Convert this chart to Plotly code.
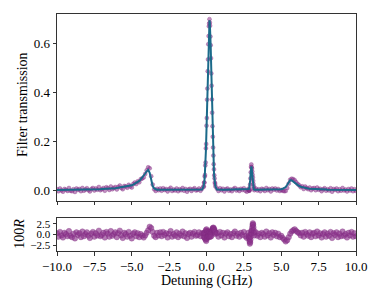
import plotly.graph_objects as go

# ---- sample positions (GHz) ----
x_seg1 = [-10.0, -9.9, -9.8, -9.7, -9.6, -9.5, -9.4, -9.3, -9.2, -9.1,
          -9.0, -8.9, -8.8, -8.7, -8.6, -8.5, -8.4, -8.3, -8.2, -8.1,
          -8.0, -7.9, -7.8, -7.7, -7.6, -7.5, -7.4, -7.3, -7.2, -7.1,
          -7.0, -6.9, -6.8, -6.7, -6.6, -6.5, -6.4, -6.3, -6.2, -6.1,
          -6.0, -5.9, -5.8, -5.7, -5.6, -5.5, -5.4, -5.3, -5.2, -5.1,
          -5.0, -4.9, -4.8, -4.7, -4.6, -4.5, -4.4, -4.3, -4.2, -4.1,
          -4.0, -3.9, -3.8, -3.7, -3.6, -3.5, -3.4, -3.3, -3.2, -3.1,
          -3.0, -2.9, -2.8, -2.7, -2.6, -2.5, -2.4, -2.3, -2.2, -2.1,
          -2.0, -1.9, -1.8, -1.7, -1.6, -1.5, -1.4, -1.3, -1.2, -1.1,
          -1.0, -0.9, -0.8, -0.7, -0.6, -0.5, -0.4, -0.3]
x_seg2 = [-0.20, -0.18, -0.16, -0.14, -0.12, -0.10, -0.08, -0.06, -0.04, -0.02,
          0.00, 0.02, 0.04, 0.06, 0.08, 0.10, 0.12, 0.14, 0.16, 0.18,
          0.20, 0.22, 0.24, 0.26, 0.28, 0.30, 0.32, 0.34, 0.36, 0.38,
          0.40, 0.42, 0.44, 0.46, 0.48, 0.50, 0.52, 0.54, 0.56, 0.58, 0.60]
x_seg3 = [0.7, 0.8, 0.9, 1.0, 1.1, 1.2, 1.3, 1.4, 1.5, 1.6,
          1.7, 1.8, 1.9, 2.0, 2.1, 2.2, 2.3, 2.4, 2.5, 2.6, 2.7]
x_seg4 = [2.80, 2.82, 2.84, 2.86, 2.88, 2.90, 2.92, 2.94, 2.96, 2.98,
          3.00, 3.02, 3.04, 3.06, 3.08, 3.10, 3.12, 3.14, 3.16, 3.18, 3.20]
x_seg5 = [3.3, 3.4, 3.5, 3.6, 3.7, 3.8, 3.9, 4.0, 4.1, 4.2,
          4.3, 4.4, 4.5, 4.6, 4.7, 4.8, 4.9, 5.0, 5.1, 5.2,
          5.3, 5.4, 5.5, 5.6, 5.7, 5.8, 5.9, 6.0, 6.1, 6.2,
          6.3, 6.4, 6.5, 6.6, 6.7, 6.8, 6.9, 7.0, 7.1, 7.2,
          7.3, 7.4, 7.5, 7.6, 7.7, 7.8, 7.9, 8.0, 8.1, 8.2,
          8.3, 8.4, 8.5, 8.6, 8.7, 8.8, 8.9, 9.0, 9.1, 9.2,
          9.3, 9.4, 9.5, 9.6, 9.7, 9.8, 9.9, 10.0]

# ---- fitted filter transmission ----
fit_seg1 = [0.003, 0.003, 0.003, 0.003, 0.003, 0.003, 0.003, 0.003, 0.003, 0.003,
            0.004, 0.004, 0.004, 0.004, 0.004, 0.004, 0.004, 0.004, 0.004, 0.004,
            0.005, 0.005, 0.005, 0.005, 0.005, 0.006, 0.006, 0.006, 0.006, 0.006,
            0.007, 0.007, 0.007, 0.008, 0.008, 0.008, 0.009, 0.009, 0.010, 0.010,
            0.011, 0.012, 0.012, 0.013, 0.014, 0.015, 0.016, 0.017, 0.018, 0.020,
            0.022, 0.025, 0.028, 0.031, 0.035, 0.040, 0.046, 0.053, 0.061, 0.070,
            0.079, 0.085, 0.073, 0.044, 0.019, 0.009, 0.005, 0.004, 0.004, 0.004,
            0.004, 0.004, 0.004, 0.004, 0.004, 0.004, 0.004, 0.004, 0.004, 0.004,
            0.004, 0.004, 0.004, 0.004, 0.004, 0.004, 0.004, 0.004, 0.004, 0.004,
            0.004, 0.004, 0.004, 0.004, 0.004, 0.004, 0.004, 0.005]
fit_seg2 = [0.016, 0.021, 0.029, 0.040, 0.055, 0.073, 0.097, 0.127, 0.163, 0.205,
            0.253, 0.306, 0.363, 0.422, 0.482, 0.539, 0.590, 0.633, 0.666, 0.687,
            0.694,
            0.687, 0.666, 0.633, 0.590, 0.539, 0.482, 0.422, 0.363, 0.306, 0.253,
            0.205, 0.163, 0.127, 0.097, 0.073, 0.055, 0.040, 0.029, 0.021, 0.016]
fit_seg3 = [0.005, 0.004, 0.004, 0.004, 0.004, 0.004, 0.004, 0.004, 0.004, 0.004,
            0.004, 0.004, 0.004, 0.004, 0.004, 0.004, 0.004, 0.004, 0.004, 0.004, 0.004]
fit_seg4 = [0.004, 0.005, 0.007, 0.010, 0.017, 0.028, 0.043, 0.062, 0.080, 0.094,
            0.099, 0.094, 0.080, 0.062, 0.043, 0.028, 0.017, 0.010, 0.007, 0.005, 0.004]
fit_seg5 = [0.004, 0.004, 0.004, 0.004, 0.004, 0.004, 0.004, 0.004, 0.004, 0.004,
            0.004, 0.004, 0.005, 0.005, 0.005, 0.005, 0.005, 0.006, 0.008, 0.010,
            0.015, 0.024, 0.035, 0.043, 0.042, 0.037, 0.031, 0.026, 0.022, 0.019,
            0.016, 0.014, 0.012, 0.011, 0.010, 0.009, 0.008, 0.008, 0.007, 0.007,
            0.006, 0.006, 0.006, 0.005, 0.005, 0.005, 0.005, 0.005, 0.004, 0.004,
            0.004, 0.004, 0.004, 0.004, 0.004, 0.004, 0.004, 0.004, 0.004, 0.004,
            0.004, 0.004, 0.003, 0.003, 0.003, 0.003, 0.003, 0.003]

# ---- residuals, 100R ----
res_seg1 = [0.3, -0.5, 0.6, -0.2, -0.7, 0.4, 0.1, -0.4, 0.8, -0.3,
            -0.6, 0.2, -0.9, 0.5, -0.1, 0.3, -0.6, 0.7, -0.4, 0.1,
            0.5, -0.3, -0.8, 0.2, 0.6, -0.5, 0.3, -0.2, 0.9, -0.4,
            -0.1, 0.4, -0.7, 0.6, 0.2, -0.5, 0.8, -0.3, 0.1, 0.5,
            -0.6, 0.3, 0.9, -0.2, -0.8, 0.4, 0.1, -0.5, 0.6, -0.3,
            -0.9, 0.2, 0.5, -0.4, 0.3, -0.6, 0.1, -0.3, -0.7, -0.2,
            0.4, 1.0, 1.8, 1.5, 0.6, -0.3, -0.6, 0.4, -0.2, 0.5,
            -0.4, 0.6, -0.1, 0.3, -0.7, 0.2, 0.8, -0.5, 0.1, -0.3,
            0.5, -0.6, 0.2, -0.2, 0.7, -0.4, 0.3, -0.8, 0.1, 0.4,
            -0.5, 0.2, 0.6, -0.3, -0.1, 0.5, -0.4, 0.3]
res_seg2 = [0.2, -0.5, 0.4, -0.7, 0.3, -0.9, 0.6, -1.2, 1.0, -1.5,
            1.2, -1.0, 0.8, -0.6, 0.5, -0.4, 0.7, -0.3, 0.4, -0.6,
            0.5, -0.2, 0.6, -0.5, 0.3, 0.1, -0.4, 0.6, 0.9, 1.2,
            1.0, 1.5, 1.3, 1.6, 1.1, 1.4, 0.8, 1.0, 0.4, 0.6, 0.1]
res_seg3 = [0.3, -0.5, 0.6, -0.2, 0.4, -0.7, 0.2, 0.5, -0.4, 0.1,
            -0.6, 0.3, 0.7, -0.3, 0.2, -0.5, 0.4, -0.1, 0.6, -0.4, -0.8]
res_seg4 = [0.4, -0.3, -0.6, -1.0, -1.6, -2.1, -1.8, -1.2, -0.5, 0.3,
            0.8, 0.2, 1.0, 1.6, 2.2, 2.6, 2.3, 1.7, 1.0, 0.4, -0.2]
res_seg5 = [0.5, -0.3, 0.2, -0.6, 0.4, 0.1, -0.5, 0.7, -0.2, 0.3,
            -0.7, 0.5, -0.1, 0.4, -0.4, 0.2, -0.6, -0.3, -0.8, -1.2,
            -1.6, -1.3, -0.6, 0.2, 0.7, 1.0, 1.2, 0.8, 0.5, 0.3,
            -0.2, 0.4, -0.5, 0.6, 0.1, -0.3, 0.5, -0.6, 0.2, 0.4,
            -0.4, 0.7, -0.2, 0.3, -0.7, 0.1, 0.5, -0.5, 0.2, -0.3,
            0.6, -0.8, 0.3, -0.1, 0.5, -0.6, 0.2, -0.4, 0.7, -0.3,
            0.1, -0.7, 0.4, -0.2, 0.6, -0.5, 0.3, -0.4]

detuning = x_seg1 + x_seg2 + x_seg3 + x_seg4 + x_seg5
fit = fit_seg1 + fit_seg2 + fit_seg3 + fit_seg4 + fit_seg5
residual_100R = res_seg1 + res_seg2 + res_seg3 + res_seg4 + res_seg5
# measured transmission = fit + residual
transmission = [f + r / 100.0 for f, r in zip(fit, residual_100R)]

xticks = [-10.0, -7.5, -5.0, -2.5, 0.0, 2.5, 5.0, 7.5, 10.0]
yticks_top = [0.0, 0.2, 0.4, 0.6]
yticks_bot = [-2.5, 0.0, 2.5]

PURPLE_FILL = "rgba(140,50,140,0.55)"
PURPLE_EDGE = "rgba(125,40,125,0.6)"
TEAL = "#1b6a8a"
FONT = "Liberation Serif"
AX = "#333333"

fig = go.Figure()
fig.add_trace(go.Scatter(x=detuning, y=transmission, mode="markers",
                         marker=dict(size=4, color=PURPLE_FILL,
                                     line=dict(color=PURPLE_EDGE, width=0.5)),
                         xaxis="x", yaxis="y", showlegend=False))
fig.add_trace(go.Scatter(x=detuning, y=fit, mode="lines",
                         line=dict(color=TEAL, width=2),
                         xaxis="x", yaxis="y", showlegend=False))
fig.add_trace(go.Scatter(x=detuning, y=residual_100R, mode="markers",
                         marker=dict(size=5.5, color="rgba(140,50,140,0.65)",
                                     line=dict(color=PURPLE_EDGE, width=0.5)),
                         xaxis="x2", yaxis="y2", showlegend=False))

def axis_common(fs):
    return dict(showline=True, linecolor=AX, linewidth=1, mirror=True,
                ticks="outside", ticklen=3.5, tickwidth=1, tickcolor=AX,
                showgrid=False, zeroline=False, automargin=False,
                tickfont=dict(family=FONT, size=fs, color="black"))

fig.update_layout(
    width=374, height=299,
    margin=dict(l=57, r=18, t=14, b=48),
    paper_bgcolor="white", plot_bgcolor="white",
    font=dict(family=FONT, size=12.5, color="black"),
    xaxis=dict(domain=[0, 1], anchor="y", range=[-10, 10], tickvals=xticks,
               showticklabels=False, **axis_common(13)),
    yaxis=dict(domain=[0.211, 1], anchor="x", range=[-0.042, 0.72],
               tickvals=yticks_top, tickformat=".1f", **axis_common(13)),
    xaxis2=dict(domain=[0, 1], anchor="y2", range=[-10, 10], tickvals=xticks,
                tickformat=".1f", **axis_common(13)),
    yaxis2=dict(domain=[0, 0.139], anchor="x2", range=[-3.8, 3.8],
                tickvals=yticks_bot, tickformat=".1f", **axis_common(11)),
    annotations=[
        dict(text="Filter transmission", xref="paper", yref="paper",
             x=-0.117, y=0.616, textangle=-90, showarrow=False,
             xanchor="center", yanchor="middle",
             font=dict(family=FONT, size=14, color="black")),
        dict(text="100<i>R</i>", xref="paper", yref="paper",
             x=-0.124, y=0.072, textangle=-90, showarrow=False,
             xanchor="center", yanchor="middle",
             font=dict(family=FONT, size=14, color="black")),
        dict(text="Detuning (GHz)", xref="paper", yref="paper",
             x=0.5, y=-0.127, showarrow=False,
             xanchor="center", yanchor="middle",
             font=dict(family=FONT, size=14, color="black")),
    ],
)

fig.write_html("out.html",
               config={"displayModeBar": False},
               post_script="document.body.style.margin='0';"
                           "document.body.style.padding='0';")
